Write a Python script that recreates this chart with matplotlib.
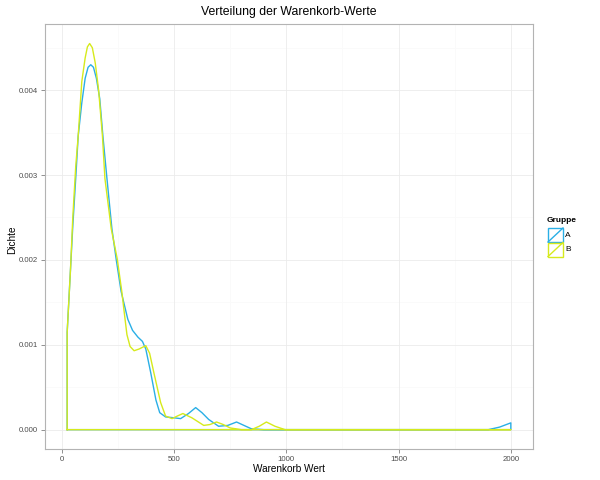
import matplotlib
matplotlib.use("Agg")
import matplotlib.pyplot as plt
from matplotlib.patches import Rectangle
from matplotlib.lines import Line2D

plt.rcParams["font.family"] = ["Liberation Sans", "DejaVu Sans"]

title = "Verteilung der Warenkorb-Werte"
xlabel = "Warenkorb Wert"
ylabel = "Dichte"
legend_title = "Gruppe"
groups = ["A", "B"]
colors = ["#2AAFE6", "#D6EA1C"]

x_ticks = [0, 500, 1000, 1500, 2000]
y_ticks = [0.000, 0.001, 0.002, 0.003, 0.004]

# Group A density
a_x = [25, 40, 50, 63, 74, 90, 105, 118, 130, 142, 155, 170, 184, 202, 224,
       243, 265, 295, 316, 340, 360, 375, 397, 420, 437, 463, 500, 530, 565,
       597, 625, 655, 699, 740, 779, 812, 845, 900, 1900, 1950, 2000]
a_y = [0.00115, 0.0019, 0.0024, 0.00296, 0.00346, 0.00385, 0.00414, 0.00427,
       0.0043, 0.00427, 0.00414, 0.0039, 0.00346, 0.00296, 0.00237, 0.00201,
       0.00163, 0.0013, 0.00117, 0.00109, 0.00104, 0.00095, 0.00067, 0.00035,
       0.0002, 0.00015, 0.00014, 0.00013, 0.00019, 0.00026, 0.0002, 0.00012,
       0.00004, 0.00005, 0.00009, 0.00005, 0.00001, 0.0, 0.0, 0.00003, 0.00008]

# Group B density
b_x = [25, 40, 50, 63, 74, 90, 105, 115, 125, 137, 150, 165, 182, 193, 221,
       248, 268, 280, 291, 305, 323, 345, 375, 392, 411, 441, 463, 492, 515,
       540, 580, 633, 660, 690, 720, 751, 800, 845, 880, 912, 950, 995, 2000]
b_y = [0.00115, 0.0019, 0.0025, 0.0031, 0.00346, 0.0041, 0.00438, 0.00451,
       0.00455, 0.0045, 0.00432, 0.004, 0.00346, 0.00296, 0.00237, 0.00201,
       0.00163, 0.00136, 0.00112, 0.00098, 0.00093, 0.00095, 0.00099, 0.0009,
       0.00067, 0.00032, 0.00016, 0.00013, 0.00016, 0.00019, 0.00014, 0.00005,
       0.00006, 0.00009, 0.00006, 0.00002, 0.0, 0.0, 0.00004, 0.00009, 0.00004,
       0.0, 0.0]

series = [(a_x, a_y), (b_x, b_y)]

fig = plt.figure(figsize=(6, 4.8), dpi=100)
ax = fig.add_axes([45/600, 1 - 449/480, 488/600, 425/480])

# grid (theme_bw-like)
for v in [250, 750, 1250, 1750]:
    ax.axvline(v, color="#FAFAFA", lw=0.6, zorder=0)
for v in [0.0005, 0.0015, 0.0025, 0.0035, 0.0045]:
    ax.axhline(v, color="#FAFAFA", lw=0.6, zorder=0)
for v in x_ticks:
    ax.axvline(v, color="#EBEBEB", lw=0.6, zorder=0)
for v in y_ticks:
    ax.axhline(v, color="#EBEBEB", lw=0.6, zorder=0)

for (xs, ys), c in zip(series, colors):
    px = [xs[0]] + xs + [xs[-1], xs[0]]
    py = [0.0] + ys + [0.0, 0.0]
    ax.plot(px, py, color=c, lw=1.0, solid_joinstyle="round", zorder=3)

ax.set_xlim(-73.75, 2098.75)
ax.set_ylim(-0.000228, 0.00478)
ax.set_xticks(x_ticks)
ax.set_xticklabels([str(v) for v in x_ticks])
ax.set_yticks(y_ticks)
ax.set_yticklabels(["%.3f" % v for v in y_ticks])
ax.tick_params(axis="both", colors="#7F7F7F", labelsize=5.6, length=3, width=0.6,
               labelcolor="#4D4D4D", pad=2)
for s in ax.spines.values():
    s.set_color("#B3B3B3")
    s.set_linewidth(0.8)

fig.text(289/600, 1 - 468.5/480, xlabel, fontsize=7.2, ha="center", va="center")
fig.text(12/600, 1 - 240/480, ylabel, fontsize=7.2, ha="center", va="center",
         rotation=90)
fig.text(289/600, 1 - 12/480, title, fontsize=8.8, ha="center", va="center")

# legend (ggplot-like keys)
fig.text(547/600, 1 - 221/480, legend_title, fontsize=6, fontweight="bold",
         va="center", ha="left")
key_w, key_h = 15/600, 14/480
for i, (g, c) in enumerate(zip(groups, colors)):
    x0 = 548/600
    y0 = 1 - (228 + 14.5*i + 14)/480
    fig.patches.append(Rectangle((x0, y0), key_w, key_h, transform=fig.transFigure,
                                 facecolor="white", edgecolor=c, lw=1.0))
    fig.lines.append(Line2D([x0, x0 + key_w], [y0, y0 + key_h], transform=fig.transFigure,
                            color=c, lw=1.0))
    fig.text(x0 + key_w + 2/600, y0 + key_h/2, g, fontsize=6, va="center", ha="left")

fig.savefig("out.png", dpi=100)
